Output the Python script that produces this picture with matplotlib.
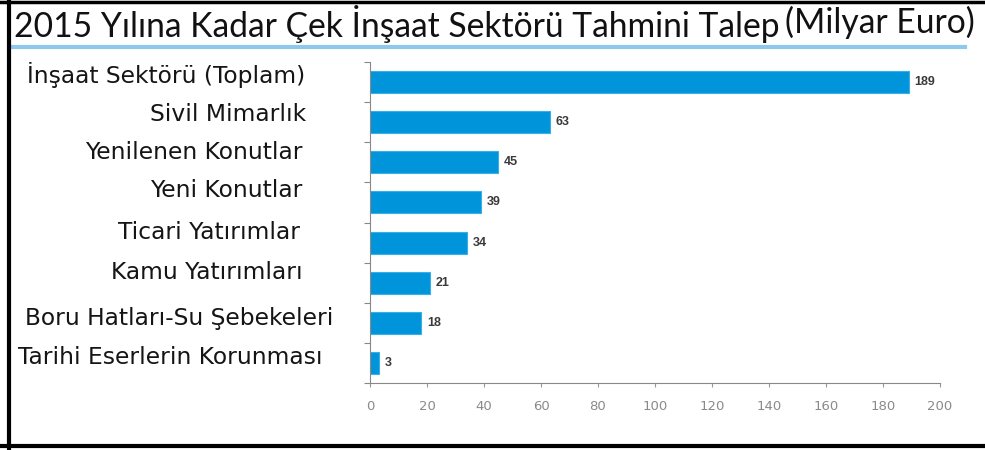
import matplotlib
matplotlib.use("Agg")
import matplotlib.pyplot as plt
from matplotlib.lines import Line2D

# veriler
kategoriler = [
    "İnşaat Sektörü (Toplam)",
    "Sivil Mimarlık",
    "Yenilenen Konutlar",
    "Yeni Konutlar",
    "Ticari Yatırımlar",
    "Kamu Yatırımları",
    "Boru Hatları-Su Şebekeleri",
    "Tarihi Eserlerin Korunması",
]
degerler = [189, 63, 45, 39, 34, 21, 18, 3]
x_ticks = [0, 20, 40, 60, 80, 100, 120, 140, 160, 180, 200]

baslik = "2015 Yılına Kadar Çek İnşaat Sektörü Tahmini Talep"
birim = "(Milyar Euro)"

# etiketlerin yerlesimi (piksel kaydirma, sadece gorunum icin)
etiket_sag = [-65, -64, -67, -68, -70, -67, -37, -48]
etiket_yukari = [7, 8, 10, 12, 10, 10, 4, 5]

fig = plt.figure(figsize=(9.85, 4.5), dpi=100)
ax = fig.add_axes([370 / 985, 67 / 450, 570 / 985, 321 / 450])

y = list(range(len(kategoriler)))
ax.barh(y, degerler, height=0.55, color="#0095da", edgecolor="#3aaee6", linewidth=0.8)
for yi, v in zip(y, degerler):
    ax.annotate(str(v), xy=(v, yi), xytext=(6, 0), textcoords="offset pixels",
                va="center", ha="left", fontsize=9, fontweight="bold",
                color="#3a3a3a", family="Liberation Sans")

ax.set_xlim(0, 200)
ax.set_ylim(len(kategoriler) - 0.5, -0.5)
ax.set_xticks(x_ticks)
ax.tick_params(axis="x", colors="#999999", labelcolor="#8a8a8a", labelsize=9.5,
               length=3, pad=9)
ax.set_yticks([i - 0.5 for i in range(len(kategoriler) + 1)])
ax.set_yticklabels([])
ax.tick_params(axis="y", colors="#888888", length=4)
for s in ["top", "right"]:
    ax.spines[s].set_visible(False)
for s in ["left", "bottom"]:
    ax.spines[s].set_color("#888888")

# kategori etiketleri
for yi, k, dx, dy in zip(y, kategoriler, etiket_sag, etiket_yukari):
    ax.annotate(k, xy=(0, yi), xycoords=("axes fraction", "data"),
                xytext=(dx, dy), textcoords="offset pixels",
                ha="right", va="center", fontsize=16.8, family="DejaVu Sans",
                color="#151515")

# baslik
t1 = fig.text(14 / 985, 1 - 37 / 450, baslik, fontsize=24.2, family="Lato",
              color="#111111", va="baseline", ha="left")
fig.canvas.draw()
bb = t1.get_window_extent()
fig.text((bb.x1 + 5) / 985, 1 - 33 / 450, birim, fontsize=24.2, family="Lato",
         color="#111111", va="baseline", ha="left")

# baslik alti cizgi ve cerceve
fig.add_artist(Line2D([10 / 985, 965 / 985], [1 - 47 / 450] * 2, color="#8ec8ec",
                      linewidth=3, transform=fig.transFigure))
fig.add_artist(Line2D([9 / 985, 9 / 985], [0, 1], color="black", linewidth=3,
                      transform=fig.transFigure))
fig.add_artist(Line2D([0, 1], [1 - 2 / 450] * 2, color="black", linewidth=2.5,
                      transform=fig.transFigure))
fig.add_artist(Line2D([0, 1], [1 - 446 / 450] * 2, color="black", linewidth=3,
                      transform=fig.transFigure))

fig.savefig("out.png", dpi=100)
